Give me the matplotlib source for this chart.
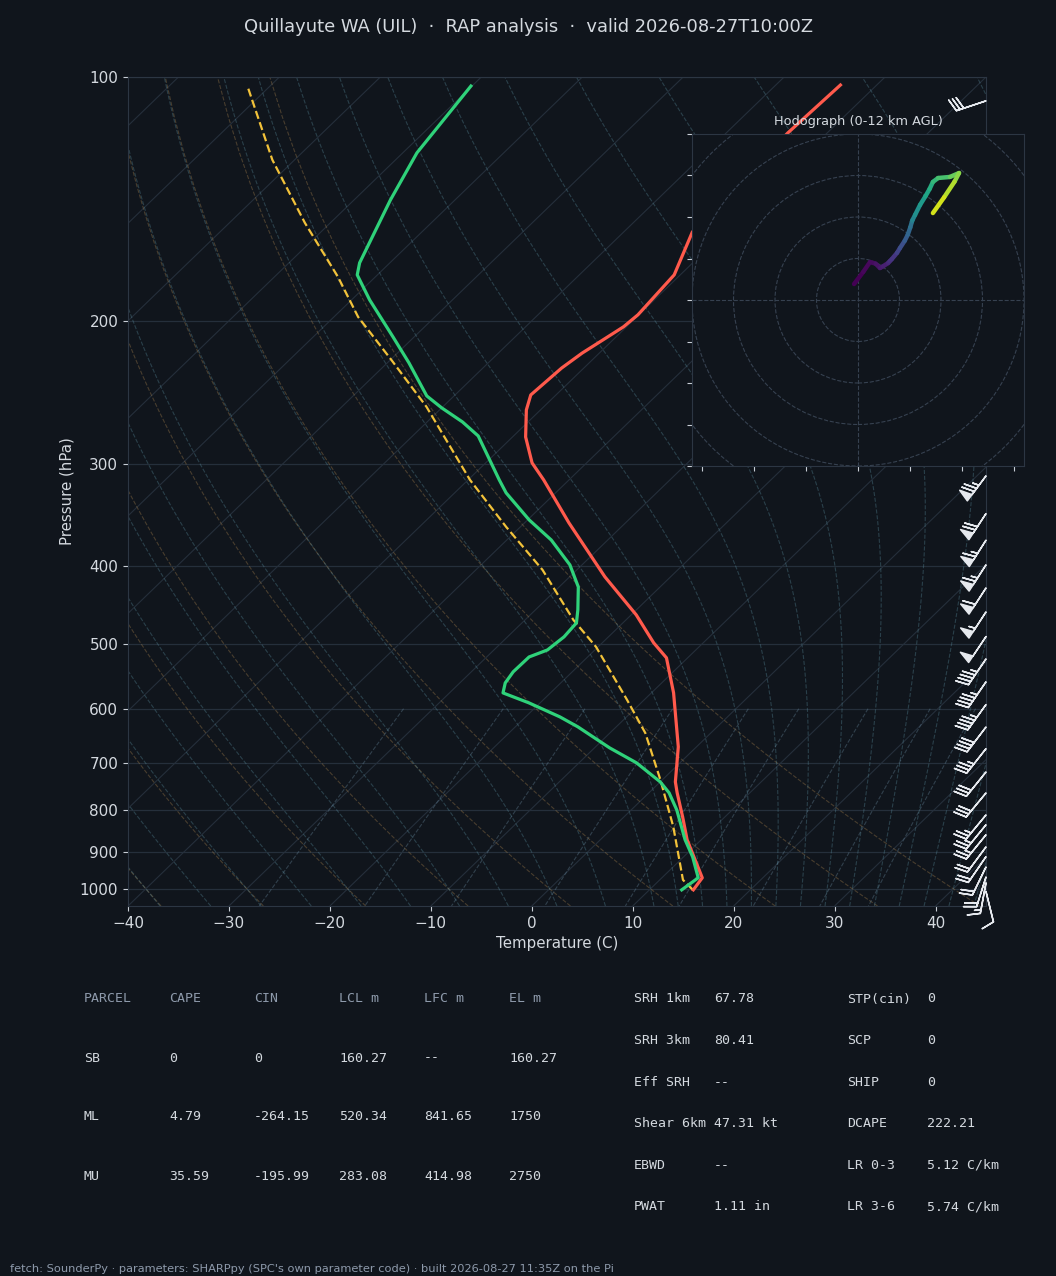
import numpy as np
import matplotlib
matplotlib.use("Agg")
import matplotlib.pyplot as plt
from matplotlib import transforms
from matplotlib.collections import LineCollection
from matplotlib.patches import Circle
from matplotlib.ticker import MultipleLocator, ScalarFormatter, NullLocator, NullFormatter

W, H = 1056, 1276
BG = "#10151c"
FG = "#d4d9df"
MUTED = "#8e9aab"
SPINE = "#2c3643"
GRID = "#252f3b"

# sounding (hPa / degC)
temp_p = [1003, 969.3, 870.2, 815.3, 761.7, 738.4, 668.6, 573.7, 519.4, 497.8, 459.8,
          412.8, 354.2, 313.6, 298.8, 277.6, 257.1, 246.4, 228.3, 218.8, 210.9, 203.1,
          196.3, 175.3, 155.2, 117.2, 102.3]
temp_c = [14.35, 14.0, 8.6, 5.8, 2.8, 1.5, -1.8, -7.8, -12.1, -14.9, -19.5,
          -26.5, -35.6, -42.5, -45.4, -48.7, -51.4, -52.5, -52.2, -51.7, -51.0, -50.3,
          -50.1, -50.6, -53.2, -53.9, -53.6]

dwpt_p = [1003, 969.3, 913.4, 870.2, 799.3, 761.7, 738.4, 699.6, 670.5, 631.7, 614.1,
          590.2, 573.7, 557.7, 540.4, 518.1, 507.9, 489.4, 470.4, 453.3, 424.8, 399.0,
          371.8, 351.2, 325.3, 313.6, 276.8, 266.0, 255.6, 247.1, 225.0, 209.0, 188.2,
          175.3, 169.4, 141.7, 124.0, 102.6]
dwpt_c = [13.2, 13.6, 10.9, 8.4, 4.5, 2.0, 0.0, -4.3, -8.5, -13.8, -16.6,
          -21.1, -24.7, -25.5, -25.85, -25.8, -24.7, -24.4, -24.6, -25.8, -28.1, -31.2,
          -35.6, -39.85, -44.9, -46.9, -53.5, -56.5, -60.0, -62.7, -67.85, -72.1, -78.2,
          -82.0, -83.0, -86.4, -88.6, -90.1]

parcel_p = [1003, 975, 838.7, 734.0, 642.7, 585.1, 503.5, 466.5, 404.7, 358.3, 313.6,
            254.9, 223.1, 197.5, 176.3, 151.3, 126.5, 102.9]
parcel_c = [14.3, 12.3, 5.9, -0.2, -6.5, -11.7, -20.2, -25.2, -33.4, -41.4, -49.8,
            -61.6, -69.9, -77.6, -83.7, -92.5, -102.2, -112.1]

# winds (kt) and height AGL (km)
wind_p = [1008, 983, 967, 940, 913, 888, 858, 834, 811, 762, 718, 672, 632, 593, 556,
          521, 489, 456, 426, 399, 372, 345, 310, 280, 250, 225, 200, 175, 150, 125, 107]
wind_z = [0.0, 0.2, 0.33, 0.57, 0.82, 1.05, 1.35, 1.6, 1.83, 2.37, 2.87, 3.43, 3.93, 4.45,
          4.97, 5.48, 5.97, 6.5, 7.0, 7.47, 7.97, 8.5, 9.22, 9.9, 10.6, 11.2, 11.9, 12.6,
          13.5, 14.6, 15.5]
wind_u = [-1.9, 2.5, 5.8, 8.5, 10.6, 12.0, 14.5, 15.2, 16.2, 18.8, 20.2, 22.5, 24.0, 25.2,
          26.0, 26.3, 27.5, 29.9, 32.5, 34.5, 36.1, 38.6, 44.3, 48.7, 46.5, 41.5, 36.1,
          31.0, 27.0, 25.0, 27.0]
wind_v = [7.7, 13.5, 18.3, 17.5, 15.4, 16.2, 17.8, 18.6, 19.6, 22.7, 25.0, 28.5, 31.5,
          35.0, 37.8, 38.6, 41.0, 45.8, 50.0, 53.5, 56.9, 58.8, 59.3, 61.2, 57.0, 49.5,
          41.9, 33.0, 24.0, 15.0, 9.0]

title = "Quillayute WA (UIL)  \u00b7  RAP analysis  \u00b7  valid 2026-08-27T10:00Z"
footer = ("fetch: SounderPy \u00b7 parameters: SHARPpy (SPC's own parameter code) \u00b7 "
          "built 2026-08-27 11:35Z on the Pi")

parcel_header = ["PARCEL", "CAPE", "CIN", "LCL m", "LFC m", "EL m"]
parcel_rows = [["SB", "0", "0", "160.27", "--", "160.27"],
               ["ML", "4.79", "-264.15", "520.34", "841.65", "1750"],
               ["MU", "35.59", "-195.99", "283.08", "414.98", "2750"]]
params_a = [("SRH 1km", "67.78"), ("SRH 3km", "80.41"), ("Eff SRH", "--"),
            ("Shear 6km", "47.31 kt"), ("EBWD", "--"), ("PWAT", "1.11 in")]
params_b = [("STP(cin)", "0"), ("SCP", "0"), ("SHIP", "0"), ("DCAPE", "222.21"),
            ("LR 0-3", "5.12 C/km"), ("LR 3-6", "5.74 C/km")]


def sat_mix(p, t):
    es = 6.112 * np.exp(17.67 * (t - 273.15) / (t - 29.65))
    return 0.622 * es / (p - es)


def moist_dtdp(p, t):
    rs = sat_mix(p, t)
    num = 287.04 * t + 2.501e6 * rs
    den = 1005.7 + (2.501e6 ** 2 * rs * 0.622) / (287.04 * t ** 2)
    return num / den / p


def moist_lapse(plevs, t0):
    t = np.array(t0, dtype=float) + 273.15
    out = [t.copy()]
    for p1, p2 in zip(plevs[:-1], plevs[1:]):
        h = p2 - p1
        k1 = moist_dtdp(p1, t)
        k2 = moist_dtdp(p1 + h / 2, t + h / 2 * k1)
        k3 = moist_dtdp(p1 + h / 2, t + h / 2 * k2)
        k4 = moist_dtdp(p2, t + h * k3)
        t = t + h / 6 * (k1 + 2 * k2 + 2 * k3 + k4)
        out.append(t.copy())
    return np.array(out) - 273.15


fig = plt.figure(figsize=(W / 100, H / 100), dpi=100, facecolor=BG)
ax = fig.add_axes([128 / W, 1 - 906 / H, 858 / W, 829 / H], facecolor=BG)
ax.set_yscale("log")
ax.set_ylim(1050, 100)
ax.set_xlim(-40, 45)
skew = ax.transScale + ax.transLimits + transforms.Affine2D().skew_deg(45, 0) + ax.transAxes

# isotherms
iso = [np.column_stack([[t, t], [1050, 100]]) for t in np.arange(-130, 50, 10)]
ax.add_collection(LineCollection(iso, colors=GRID, linewidths=0.8, transform=skew, zorder=1),
                  autolim=False)

# dry adiabats
pp = np.linspace(1050, 100, 80)
dry = [np.column_stack([(t0 + 273.15) * (pp / 1000.0) ** 0.2857 - 273.15, pp])
       for t0 in np.arange(-40, 46, 10)]
ax.add_collection(LineCollection(dry, colors="#b08850", alpha=0.35, linewidths=0.8,
                                 linestyles="dashed", transform=skew, zorder=1), autolim=False)

# moist adiabats
mt0 = np.concatenate((np.arange(-50., 10.1, 5.), np.arange(12.5, 45.1, 2.5)))
up = np.linspace(1000, 100, 181)
dn = np.linspace(1000, 1050, 11)
tu = moist_lapse(up, mt0)
td = moist_lapse(dn, mt0)
mp = np.concatenate([dn[::-1], up[1:]])
mt = np.concatenate([td[::-1], tu[1:]])
moist = [np.column_stack([mt[:, i], mp]) for i in range(len(mt0))]
ax.add_collection(LineCollection(moist, colors="#5a8fa0", alpha=0.35, linewidths=0.8,
                                 linestyles="dashed", transform=skew, zorder=1), autolim=False)

# mixing ratio lines
wr = np.array([0.0004, 0.001, 0.002, 0.004, 0.007, 0.01, 0.016, 0.024, 0.032])
mpp = np.linspace(600, 1050, 30)
mix = []
for w in wr:
    e = mpp * w / (0.622 + w)
    lne = np.log(e / 6.112)
    mix.append(np.column_stack([243.5 * lne / (17.67 - lne), mpp]))
ax.add_collection(LineCollection(mix, colors="#6d8fa5", alpha=0.35, linewidths=0.8,
                                 linestyles="dashed", transform=skew, zorder=1), autolim=False)

# profiles
ax.plot(parcel_c, parcel_p, color="#f2c23a", lw=1.6, ls="--", transform=skew, zorder=4)
ax.plot(temp_c, temp_p, color="#ff5a4c", lw=2.3, transform=skew, zorder=5,
        solid_joinstyle="round")
ax.plot(dwpt_c, dwpt_p, color="#2fd27a", lw=2.3, transform=skew, zorder=5,
        solid_joinstyle="round")

# wind barbs on right edge
bt = transforms.blended_transform_factory(ax.transAxes, ax.transData)
ax.barbs(np.ones(len(wind_p)), wind_p, wind_u, wind_v, transform=bt, clip_on=False,
         length=6.7, color="#e6e9ee", linewidth=1.1, zorder=6)

ax.set_xlim(-40, 45)
ax.set_ylim(1050, 100)
ax.yaxis.set_major_locator(MultipleLocator(100))
ax.yaxis.set_major_formatter(ScalarFormatter())
ax.yaxis.set_minor_locator(NullLocator())
ax.yaxis.set_minor_formatter(NullFormatter())
ax.xaxis.set_major_locator(MultipleLocator(10))
ax.grid(axis="y", color=GRID, lw=0.9)
ax.set_axisbelow(True)
ax.tick_params(colors="#c8ced6", labelsize=11, labelcolor=FG)
for s in ax.spines.values():
    s.set_color(SPINE)
ax.set_xlabel("Temperature (C)", color=FG, fontsize=10.8)
ax.set_ylabel("Pressure (hPa)", color=FG, fontsize=10.8)

# hodograph inset
hax = fig.add_axes([692 / W, 1 - 466 / H, 332 / W, 332 / H], facecolor=BG)
hax.set_xlim(-80, 80)
hax.set_ylim(-80, 80)
for r in range(20, 121, 20):
    hax.add_patch(Circle((0, 0), r, fill=False, ls="--", lw=0.8, color="#364150"))
hax.axhline(0, ls="--", lw=0.8, color="#364150")
hax.axvline(0, ls="--", lw=0.8, color="#364150")
hu = [u for u, z in zip(wind_u, wind_z) if z <= 12]
hv = [v for v, z in zip(wind_v, wind_z) if z <= 12]
hz = [z for z in wind_z if z <= 12]
pts = np.column_stack([hu, hv]).reshape(-1, 1, 2)
segs = np.concatenate([pts[:-1], pts[1:]], axis=1)
lc = LineCollection(segs, cmap="viridis", norm=plt.Normalize(0, 12), linewidths=3.2,
                    capstyle="round")
lc.set_array(np.array(hz[:-1]))
hax.add_collection(lc)
hax.tick_params(labelleft=False, labelbottom=False, colors="#c8ced6")
for s in hax.spines.values():
    s.set_color(SPINE)
hax.set_title("Hodograph (0-12 km AGL)", color=FG, fontsize=9.3, pad=6.5)

fig.text(0.5, 1 - 27 / H, title, ha="center", va="center", color=FG, fontsize=12.9)

# parameter tables
mono = "DejaVu Sans Mono"
col_x = [84, 169, 254, 339, 424, 509]
for x, h in zip(col_x, parcel_header):
    fig.text(x / W, 1 - 999 / H, h, color=MUTED, family=mono, fontsize=9.5, va="center")
for i, row in enumerate(parcel_rows):
    y = 1058 + 59 * i
    for x, val in zip(col_x, row):
        fig.text(x / W, 1 - y / H, val, color=FG, family=mono, fontsize=9.5, va="center")
for i, ((la, va), (lb, vb)) in enumerate(zip(params_a, params_b)):
    y = 1 - (999 + 41.6 * i) / H
    fig.text(634 / W, y, la, color=FG, family=mono, fontsize=9.5, va="center")
    fig.text(714 / W, y, va, color=FG, family=mono, fontsize=9.5, va="center")
    fig.text(847 / W, y, lb, color=FG, family=mono, fontsize=9.5, va="center")
    fig.text(927 / W, y, vb, color=FG, family=mono, fontsize=9.5, va="center")

fig.text(10 / W, 1 - 1269 / H, footer, color=MUTED, fontsize=8.2, va="center")

fig.savefig("out.png", dpi=100, facecolor=BG)
